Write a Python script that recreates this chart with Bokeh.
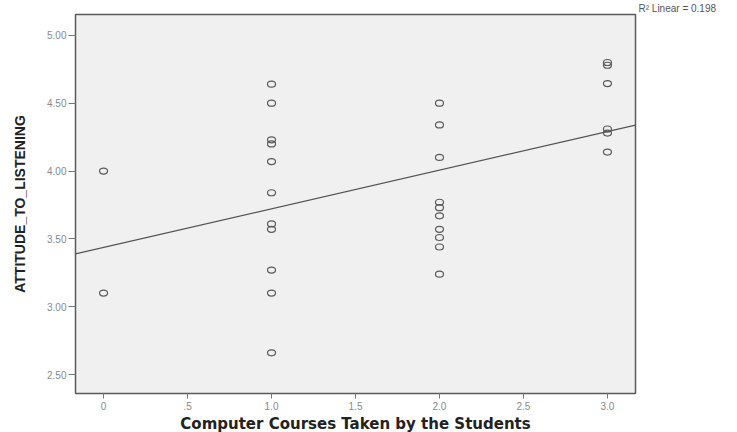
import numpy as np
from bokeh.plotting import figure
from bokeh.models import Range1d, FixedTicker, Title, ColumnDataSource
from bokeh.embed import file_html
from bokeh.resources import INLINE

# ---- data ----
courses_0 = [0, 0]
attitude_0 = [4.00, 3.10]
courses_1 = [1] * 11
attitude_1 = [4.64, 4.50, 4.23, 4.20, 4.07, 3.84, 3.61, 3.57, 3.27, 3.10, 2.66]
courses_2 = [2] * 10
attitude_2 = [4.50, 4.34, 4.10, 3.77, 3.73, 3.67, 3.57, 3.51, 3.44, 3.24]
courses_3 = [3] * 6
attitude_3 = [4.80, 4.78, 4.645, 4.31, 4.28, 4.14]

x_ticks = [0, 0.5, 1.0, 1.5, 2.0, 2.5, 3.0]
x_tick_labels = ["0", ".5", "1.0", "1.5", "2.0", "2.5", "3.0"]
y_ticks = [2.5, 3.0, 3.5, 4.0, 4.5, 5.0]
y_tick_labels = ["2.50", "3.00", "3.50", "4.00", "4.50", "5.00"]
r2_text = "R\u00b2 Linear = 0.198"

x_title = "Computer Courses Taken by the Students"
y_title = "ATTITUDE_TO_LISTENING"

xs = courses_0 + courses_1 + courses_2 + courses_3
ys = attitude_0 + attitude_1 + attitude_2 + attitude_3

x_lo, x_hi = -0.167, 3.167
y_lo, y_hi = 2.36, 5.154

p = figure(frame_width=560, frame_height=379,
           min_border_left=75, min_border_right=94, min_border_top=0, min_border_bottom=33,
           x_range=Range1d(x_lo, x_hi), y_range=Range1d(y_lo, y_hi),
           output_backend="svg", toolbar_location=None)

p.background_fill_color = "#f0f0f0"
p.border_fill_color = "white"
p.outline_line_color = "#5a5a5a"
p.outline_line_width = 1.5
p.grid.visible = False

# R² note above the top-right corner of the frame
r2_title = Title(text=r2_text, align="left", offset=563, text_font="Liberation Sans",
                 text_font_size="10px", text_font_style="normal", text_color="#555555",
                 standoff=1)
p.add_layout(r2_title, "above")

# scatter of open ellipses
src = ColumnDataSource(dict(x=xs, y=ys))
p.ellipse(x="x", y="y", width=8, height=6, width_units="screen", height_units="screen",
          source=src, fill_color=None, line_color="#5a5a5a", line_width=1.2)

# linear fit
slope, intercept = np.polyfit(np.array(xs, float), np.array(ys, float), 1)
fx = np.array([x_lo, x_hi])
p.line(fx, intercept + slope * fx, line_color="#555555", line_width=1.2)

for ax, ticks, labels in ((p.xaxis[0], x_ticks, x_tick_labels), (p.yaxis[0], y_ticks, y_tick_labels)):
    ax.ticker = FixedTicker(ticks=ticks)
    ax.major_label_overrides = {t: l for t, l in zip(ticks, labels)}
    ax.axis_line_color = None
    ax.major_tick_line_color = "#777777"
    ax.major_tick_out = 7
    ax.major_tick_in = 0
    ax.minor_tick_line_color = None
    ax.major_label_text_font = "Liberation Sans"
    ax.major_label_text_font_size = "10px"
    ax.major_label_text_color = "#8a8a8a"
    ax.axis_label_text_font_style = "bold"
    ax.axis_label_text_color = "#222222"

p.xaxis.major_tick_out = 5
p.xaxis.major_label_standoff = 3
p.yaxis.major_label_standoff = 2
p.xaxis.axis_label = x_title
p.xaxis.axis_label_text_font = "DejaVu Sans"
p.xaxis.axis_label_text_font_size = "15px"
p.xaxis.axis_label_standoff = 2
p.yaxis.axis_label = y_title
p.yaxis.axis_label_text_font = "Liberation Sans"
p.yaxis.axis_label_text_font_size = "14px"
p.yaxis.axis_label_standoff = 16

open("out.html", "w").write(file_html(p, INLINE))
